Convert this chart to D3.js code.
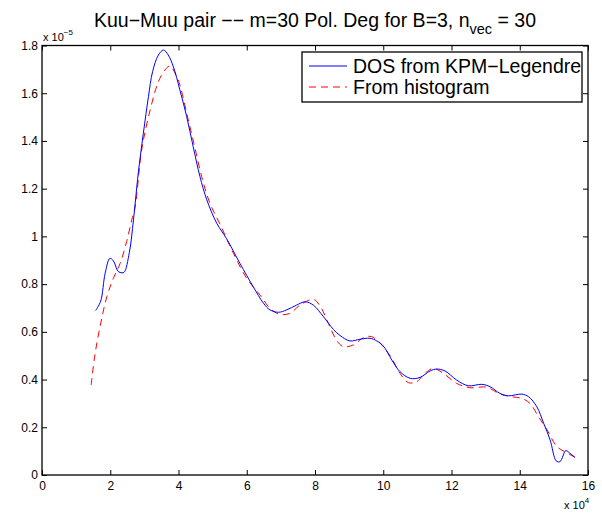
<!DOCTYPE html>
<meta charset="utf-8">
<script src="https://d3js.org/d3.v7.min.js"></script>
<style>
  body { margin: 0; background: #fff; }
  text { font-family: "Liberation Sans", Arial, Helvetica, sans-serif; }
</style>
<body>
<div id="chart"></div>
<script>
// x values in units of 1e4, y values in units of 1e-5
const kpmX = [1.57, 1.72, 1.85, 1.99, 2.09, 2.22, 2.29, 2.40, 2.56, 2.68, 2.82, 2.97, 3.12, 3.24, 3.41, 3.56, 3.70, 3.85, 4.04, 4.24, 4.43, 4.63, 4.83, 5.12, 5.41, 5.80, 6.19, 6.49, 6.68, 6.93, 7.17, 7.46, 7.71, 7.95, 8.25, 8.54, 8.73, 9.02, 9.32, 9.61, 9.81, 10.0, 10.25, 10.49, 10.79, 11.08, 11.37, 11.57, 11.81, 12.15, 12.49, 12.89, 13.13, 13.42, 13.67, 14.06, 14.26, 14.50, 14.70, 14.89, 15.07, 15.18, 15.35, 15.47, 15.62];
const kpmY = [0.689, 0.729, 0.845, 0.908, 0.898, 0.855, 0.849, 0.849, 0.933, 1.069, 1.264, 1.432, 1.586, 1.690, 1.760, 1.781, 1.760, 1.711, 1.614, 1.502, 1.376, 1.250, 1.153, 1.055, 0.990, 0.887, 0.789, 0.720, 0.692, 0.682, 0.692, 0.712, 0.726, 0.712, 0.663, 0.610, 0.585, 0.562, 0.569, 0.573, 0.562, 0.541, 0.482, 0.433, 0.405, 0.409, 0.436, 0.444, 0.436, 0.398, 0.374, 0.380, 0.370, 0.342, 0.332, 0.339, 0.328, 0.286, 0.217, 0.147, 0.059, 0.056, 0.102, 0.091, 0.074];

const histX = [1.44, 1.55, 1.70, 1.90, 2.09, 2.29, 2.48, 2.63, 2.73, 2.92, 3.17, 3.41, 3.60, 3.75, 3.95, 4.05, 4.25, 4.45, 4.68, 4.92, 5.22, 5.61, 6.00, 6.39, 6.68, 6.97, 7.27, 7.56, 7.95, 8.15, 8.39, 8.64, 8.83, 9.12, 9.42, 9.66, 10.0, 10.25, 10.49, 10.74, 10.98, 11.22, 11.47, 11.76, 12.15, 12.54, 13.03, 13.42, 13.76, 14.06, 14.30, 14.55, 14.80, 15.09, 15.38, 15.62];
const histY = [0.377, 0.503, 0.621, 0.747, 0.824, 0.887, 0.978, 1.069, 1.124, 1.362, 1.530, 1.648, 1.697, 1.714, 1.669, 1.630, 1.510, 1.390, 1.250, 1.139, 1.050, 0.929, 0.824, 0.754, 0.699, 0.673, 0.678, 0.712, 0.736, 0.708, 0.636, 0.563, 0.538, 0.545, 0.575, 0.580, 0.538, 0.489, 0.426, 0.387, 0.391, 0.426, 0.447, 0.426, 0.384, 0.366, 0.368, 0.339, 0.328, 0.321, 0.300, 0.244, 0.189, 0.119, 0.093, 0.074];

const xTicks = [0, 2, 4, 6, 8, 10, 12, 14, 16];
const yTicks = [0, 0.2, 0.4, 0.6, 0.8, 1, 1.2, 1.4, 1.6, 1.8];
const seriesNames = ["DOS from KPM\u2212Legendre", "From histogram"];

const W = 602, H = 513;
const plot = {left: 42, right: 588, top: 45.5, bottom: 475};

const svg = d3.select("#chart").append("svg")
  .attr("width", W).attr("height", H);

const x = d3.scaleLinear().domain([0, 16]).range([plot.left, plot.right]);
const y = d3.scaleLinear().domain([0, 1.8]).range([plot.bottom, plot.top]);

// axes, MATLAB style ticks pointing inwards
const gx = svg.append("g").attr("transform", `translate(0,${plot.bottom})`)
  .call(d3.axisBottom(x).tickValues(xTicks).tickSizeInner(-5).tickSizeOuter(0).tickPadding(6).tickFormat(d3.format("d")));
const gy = svg.append("g").attr("transform", `translate(${plot.left},0)`)
  .call(d3.axisLeft(y).tickValues(yTicks).tickSizeInner(-5).tickSizeOuter(0).tickPadding(4).tickFormat(d => d === 0 ? "0" : d3.format("~g")(d)));
const gt = svg.append("g").attr("transform", `translate(0,${plot.top})`)
  .call(d3.axisTop(x).tickValues(xTicks).tickSizeInner(-5).tickSizeOuter(0).tickFormat(""));
const gr = svg.append("g").attr("transform", `translate(${plot.right},0)`)
  .call(d3.axisRight(y).tickValues(yTicks).tickSizeInner(-5).tickSizeOuter(0).tickFormat(""));

[gx, gy, gt, gr].forEach(g => {
  g.select(".domain").remove();
  g.selectAll("line").attr("stroke", "#000");
  g.selectAll("text").attr("fill", "#000").style("font-size", "12px");
});

svg.append("rect")
  .attr("x", plot.left).attr("y", plot.top)
  .attr("width", plot.right - plot.left).attr("height", plot.bottom - plot.top)
  .attr("fill", "none").attr("stroke", "#000").attr("stroke-width", 1.3);

const line = d3.line()
  .x(d => x(d[0])).y(d => y(d[1]))
  .curve(d3.curveCatmullRom.alpha(0.5));

svg.append("path")
  .datum(histX.map((v, i) => [v, histY[i]]))
  .attr("d", line)
  .attr("fill", "none").attr("stroke", "#ff0000").attr("stroke-width", 1)
  .attr("stroke-dasharray", "7,5");

svg.append("path")
  .datum(kpmX.map((v, i) => [v, kpmY[i]]))
  .attr("d", line)
  .attr("fill", "none").attr("stroke", "#0000ff").attr("stroke-width", 1);

// exponent labels
const ey = svg.append("text").attr("x", 43).attr("y", 41).style("font-size", "11px");
ey.append("tspan").text("x 10");
ey.append("tspan").attr("dy", -6).style("font-size", "8px").text("\u22125");

const ex = svg.append("text").attr("x", 564).attr("y", 509).style("font-size", "11px");
ex.append("tspan").text("x 10");
ex.append("tspan").attr("dy", -6).style("font-size", "8px").text("4");

// title
const title = svg.append("text")
  .attr("x", (plot.left + plot.right) / 2).attr("y", 27)
  .attr("text-anchor", "middle").style("font-size", "19.5px");
title.append("tspan").text("Kuu\u2212Muu pair \u2212\u2212 m=30 Pol. Deg for B=3, n");
title.append("tspan").attr("dy", 7).style("font-size", "14.5px").text("vec");
title.append("tspan").attr("dy", -7).text(" = 30");

// legend
const lg = svg.append("g");
lg.append("rect").attr("x", 302).attr("y", 52).attr("width", 280).attr("height", 50)
  .attr("fill", "#fff").attr("stroke", "#000").attr("stroke-width", 1.3);
const legendStyle = [
  { color: "#0000ff", dash: null },
  { color: "#ff0000", dash: "7,5" }
];
seriesNames.forEach((name, i) => {
  const cy = 66 + i * 21;
  lg.append("line").attr("x1", 309).attr("x2", 347).attr("y1", cy).attr("y2", cy)
    .attr("stroke", legendStyle[i].color).attr("stroke-width", 1)
    .attr("stroke-dasharray", legendStyle[i].dash);
  lg.append("text").attr("x", 353).attr("y", cy + 6.5)
    .style("font-size", "19.5px").text(name);
});
</script>
</body>
